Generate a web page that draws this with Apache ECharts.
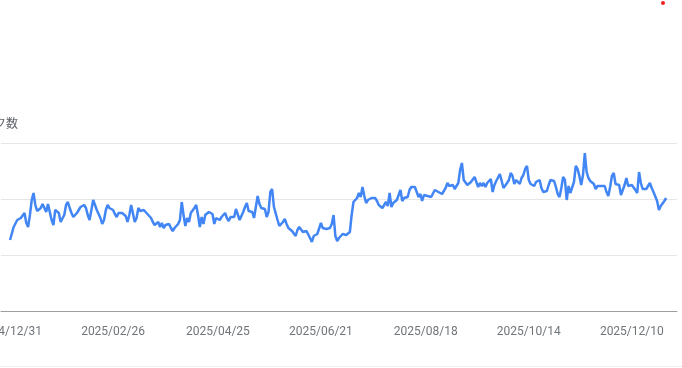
<!DOCTYPE html>
<html>
<head>
<meta charset="utf-8">
<script src="https://cdn.jsdelivr.net/npm/echarts@6/dist/echarts.min.js"></script>
<style>html,body{margin:0;padding:0;background:#fff}#c{width:682px;height:368px}</style>
</head>
<body>
<div id="c"></div>
<script>
// Daily values starting 2024/12/31
const firstDay = '2024-12-31';
const clicks = [
71,71,84,83,91,89,93,95,98,88,84,96,111,118,106,100,99,103,107,108,
99,107,99,91,86,101,100,98,89,88,96,106,109,103,98,94,95,98,101,104,
103,106,103,96,91,101,111,109,101,97,93,87,91,101,106,103,101,101,97,94,
98,97,98,98,95,89,96,106,106,89,93,103,100,102,101,99,97,96,93,89,
86,87,89,84,88,83,86,85,87,83,80,83,85,87,91,109,96,85,93,89,
98,100,103,106,96,84,94,87,96,98,99,99,97,87,93,93,91,94,96,98,
93,90,94,96,94,102,103,91,90,99,104,108,100,101,99,93,93,115,107,103,
105,102,94,99,119,122,104,102,91,85,86,89,92,87,83,82,80,78,75,81,
84,82,79,78,80,81,73,69,75,76,77,76,88,83,81,82,80,83,87,96,
75,70,73,75,77,79,76,78,79,96,109,111,113,118,114,124,115,108,111,113,
113,114,113,110,106,104,103,106,109,105,118,104,108,110,111,116,121,110,113,113,
114,121,124,125,124,119,114,117,110,116,114,115,116,114,112,121,123,119,121,117,
119,123,128,125,124,126,122,125,128,141,148,131,129,126,128,129,130,134,135,124,
128,125,128,124,128,129,132,119,126,130,129,137,130,123,123,128,131,138,135,127,
131,129,127,133,136,142,145,131,127,126,125,129,131,131,123,119,119,120,126,131,
132,130,124,117,114,123,134,131,111,125,118,118,129,145,142,135,126,136,158,139,
133,130,132,127,122,125,126,125,127,125,119,115,124,135,138,127,127,126,116,116,
126,133,125,125,126,124,121,118,139,128,122,121,122,124,128,123,119,117,110,101,
105,107,110,113
];
const padBefore = 5;   // empty days shown before the first data point
const padAfter = 6;    // empty days shown after the last data point
const labelDates = ['2024/12/31','2025/02/26','2025/04/25','2025/06/21','2025/08/18','2025/10/14','2025/12/10'];
const yTicks = [0, 56, 112, 168];
const axisTitle = 'クリック数';

function fmt(d){
  const m = String(d.getUTCMonth()+1).padStart(2,'0');
  const day = String(d.getUTCDate()).padStart(2,'0');
  return d.getUTCFullYear() + '/' + m + '/' + day;
}
const base = new Date(firstDay + 'T00:00:00Z');
const cats = [];
const seriesData = [];
for (let i = -padBefore; i < clicks.length + padAfter; i++) {
  const d = new Date(base.getTime() + i * 86400000);
  cats.push(fmt(d));
  seriesData.push(i >= 0 && i < clicks.length ? clicks[i] : null);
}

const chart = echarts.init(document.getElementById('c'), null, {renderer: 'canvas'});
chart.setOption({
  animation: false,
  grid: {left: 1, right: 5, top: 143, bottom: 57, containLabel: false, outerBoundsMode: 'none'},
  xAxis: {
    type: 'category',
    data: cats,
    boundaryGap: false,
    axisLine: {lineStyle: {color: '#9e9e9e', width: 1}},
    axisTick: {show: false},
    axisLabel: {
      interval: (idx, val) => labelDates.includes(val),
      color: '#70757a',
      fontFamily: 'Roboto',
      fontSize: 12,
      margin: 15,
      hideOverlap: false
    },
    splitLine: {show: false}
  },
  yAxis: {
    type: 'value',
    min: yTicks[0],
    max: yTicks[yTicks.length-1],
    interval: yTicks[1]-yTicks[0],
    axisLabel: {show: false},
    axisLine: {show: false},
    axisTick: {show: false},
    splitLine: {lineStyle: {color: '#e6e6e6', width: 1}}
  },
  series: [{
    type: 'line',
    data: seriesData,
    showSymbol: false,
    connectNulls: false,
    lineStyle: {color: '#4285f4', width: 2.5},
    z: 3
  }],
  graphic: [
    {type: 'text', right: 682-18, top: 117, style: {text: axisTitle, fill: '#5f6368', font: '12px "Noto Sans CJK JP"', textAlign: 'right'}},
    {type: 'circle', shape: {cx: 663, cy: 3, r: 2}, style: {fill: '#e8231f'}},
    {type: 'rect', shape: {x: 0, y: 366, width: 682, height: 1}, style: {fill: '#eeeeee'}}
  ]
});
</script>
</body>
</html>
